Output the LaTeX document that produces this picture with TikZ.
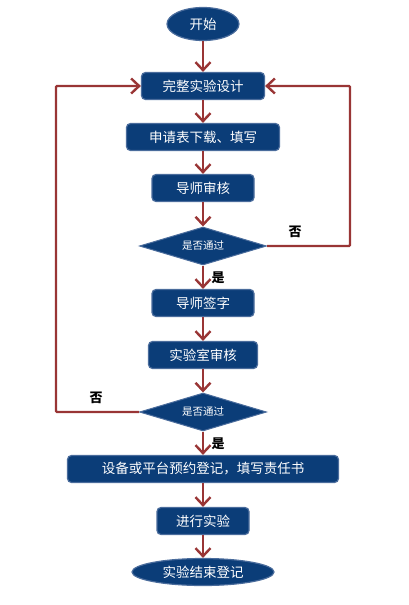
\documentclass[tikz,border=0pt]{standalone}
\usepackage{fontspec}
\setmainfont{Noto Sans CJK SC}
\usetikzlibrary{shapes.geometric,arrows.meta}
\definecolor{shenlan}{HTML}{0B3D78}
\definecolor{bianlan}{HTML}{4A6C9C}
\definecolor{zhuhong}{HTML}{993535}
\tikzset{
  kuang/.style={draw=bianlan, line width=1.2pt, fill=shenlan, rounded corners=4pt,
    text=white, font=\fontsize{13.5}{15}\selectfont, minimum height=27pt, inner sep=0pt},
  tuoyuan/.style={draw=bianlan, line width=1.2pt, fill=shenlan, ellipse,
    text=white, font=\fontsize{13.5}{15}\selectfont, inner sep=0pt},
  lingxing/.style={draw=bianlan, line width=1pt, fill=shenlan, diamond, aspect=3.3,
    text=white, font=\fontsize{10.5}{12}\selectfont, inner sep=0pt,
    minimum width=127pt, minimum height=38pt},
  jiantou/.style={draw=zhuhong, line width=2.4pt,
    -{Straight Barb[length=8pt,width=15pt,line width=2.4pt]}},
  biaoqian/.style={font=\fontsize{13}{15}\selectfont\bfseries},
}

\begin{document}
\begin{tikzpicture}[x=1pt,y=-1pt]
  \useasboundingbox (0,0) rectangle (408,605);

  \node[tuoyuan, minimum width=72pt, minimum height=33pt] (kaishi) at (203,24) {开始};
  \node[kuang, minimum width=123pt] (sheji) at (203,86) {完整实验设计};
  \node[kuang, minimum width=153pt] (shenqing) at (203,137) {申请表下载、填写};
  \node[kuang, minimum width=102pt] (daoshi) at (203,188) {导师审核};
  \node[lingxing] (panduan1) at (203,246) {是否通过};
  \node[kuang, minimum width=102pt] (qianzi) at (203,303) {导师签字};
  \node[kuang, minimum width=109pt] (shiyanshi) at (203,355) {实验室审核};
  \node[lingxing] (panduan2) at (203,412) {是否通过};
  \node[kuang, minimum width=271pt] (yuyue) at (203,469) {设备或平台预约登记，填写责任书};
  \node[kuang, minimum width=92pt] (jinxing) at (203,521) {进行实验};
  \node[tuoyuan, minimum width=142pt, minimum height=27pt] (jieshu) at (203,572) {实验结束登记};

  \draw[jiantou] (kaishi) -- (sheji);
  \draw[jiantou] (sheji) -- (shenqing);
  \draw[jiantou] (shenqing) -- (daoshi);
  \draw[jiantou] (daoshi) -- (panduan1);
  \draw[jiantou] (panduan1) -- (qianzi);
  \draw[jiantou] (qianzi) -- (shiyanshi);
  \draw[jiantou] (shiyanshi) -- (panduan2);
  \draw[jiantou] (panduan2) -- (yuyue);
  \draw[jiantou] (yuyue) -- (jinxing);
  \draw[jiantou] (jinxing) -- (jieshu);

  % fan hui
  \coordinate (youbian) at (350,0);
  \coordinate (zuobian) at (56,0);
  \draw[jiantou, rounded corners=1pt] (panduan1.east) -- (panduan1.east -| youbian) |- (sheji.east);
  \draw[jiantou, rounded corners=1pt] (panduan2.west) -- (panduan2.west -| zuobian) |- (sheji.west);

  \node[biaoqian] (fou1) at (295,232) {否};
  \node[biaoqian] (fou2) at (96,398) {否};
  \node[biaoqian] (shi1) at (218,278) {是};
  \node[biaoqian] (shi2) at (218,444) {是};
\end{tikzpicture}
\end{document}
